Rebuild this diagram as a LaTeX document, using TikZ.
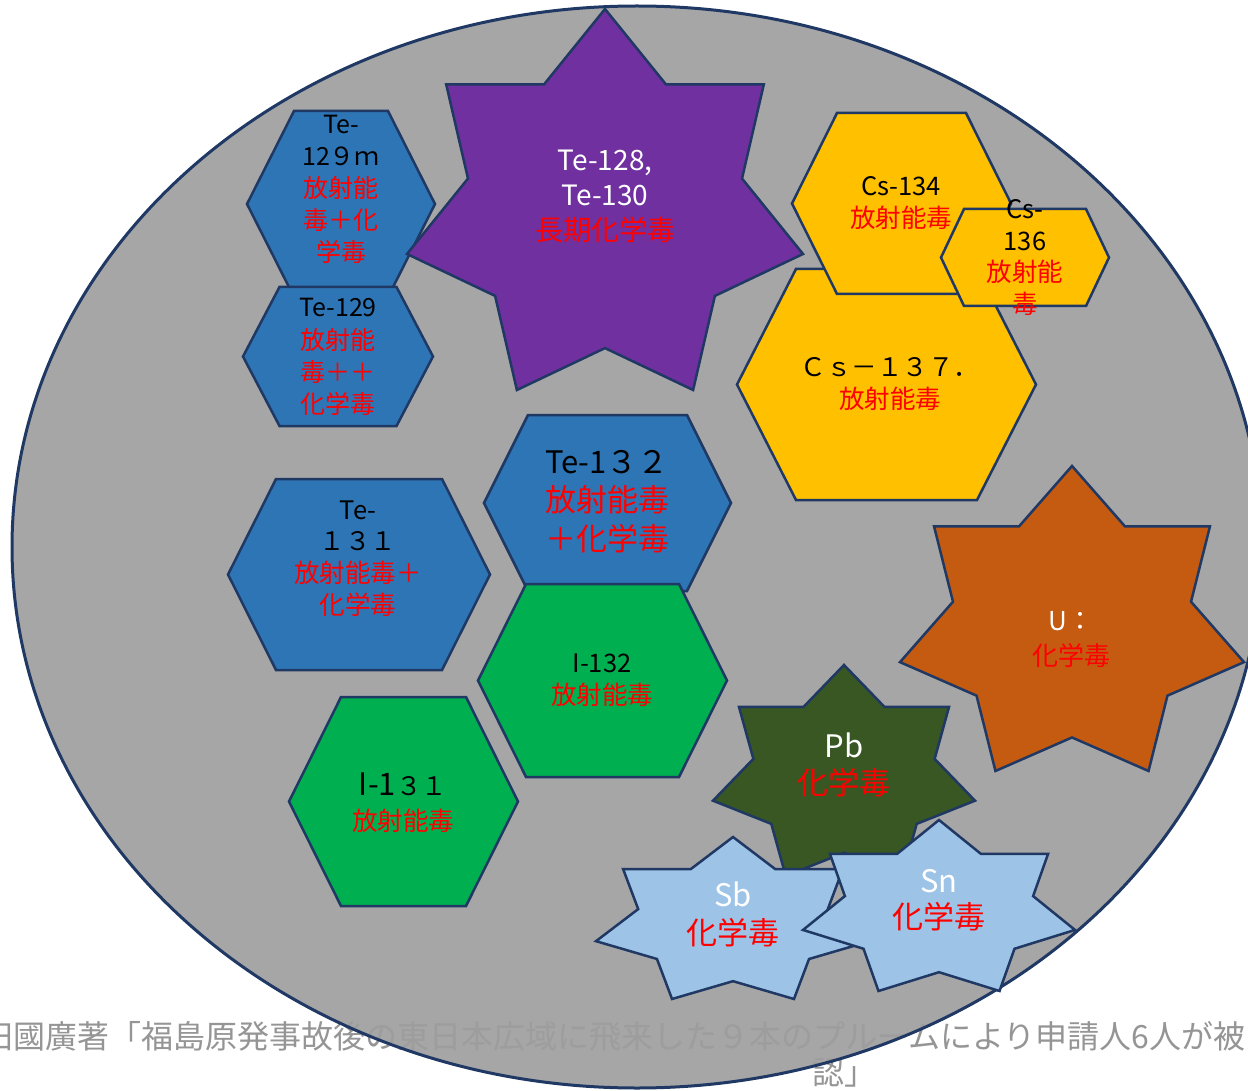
\documentclass[tikz,border=0pt]{standalone}
\usepackage{fontspec}
\setmainfont{Noto Sans CJK JP}
\definecolor{edge}{HTML}{1F3864}
\definecolor{ellgray}{HTML}{9E9E9E}
\definecolor{capgray}{HTML}{959595}
\definecolor{teblue}{HTML}{2E75B6}
\definecolor{igreen}{HTML}{00B050}
\definecolor{csyellow}{HTML}{FFC000}
\definecolor{tepurple}{HTML}{7030A0}
\definecolor{uorange}{HTML}{C55A11}
\definecolor{pbgreen}{HTML}{385723}
\definecolor{snblue}{HTML}{9DC3E6}
\newcommand{\fsz}[2]{\fontsize{#1}{#2}\selectfont}
\newcommand{\redtx}[1]{\textcolor{red}{#1}}
% hexagon: cx, cy, half width, half height, inset, fill
\newcommand{\hexa}[6]{%
  \draw[shp, fill=#6] ({#1-#3},{#2}) -- ({#1-#3+#5},{#2-#4}) -- ({#1+#3-#5},{#2-#4})
    -- ({#1+#3},{#2}) -- ({#1+#3-#5},{#2+#4}) -- ({#1-#3+#5},{#2+#4}) -- cycle;}
% seven-pointed star: x0, y0, w, h, fill
\newcommand{\starsev}[5]{%
  \draw[shp, fill=#5]
    ({#1+0.5*#3},{#2}) -- ({#1+0.654*#3},{#2+0.198*#4}) -- ({#1+0.901*#3},{#2+0.198*#4})
    -- ({#1+0.846*#3},{#2+0.445*#4}) -- ({#1+#3},{#2+0.643*#4}) -- ({#1+0.7775*#3},{#2+0.753*#4})
    -- ({#1+0.7225*#3},{#2+#4}) -- ({#1+0.5*#3},{#2+0.890*#4}) -- ({#1+0.2775*#3},{#2+#4})
    -- ({#1+0.2225*#3},{#2+0.753*#4}) -- ({#1},{#2+0.643*#4}) -- ({#1+0.154*#3},{#2+0.445*#4})
    -- ({#1+0.099*#3},{#2+0.198*#4}) -- ({#1+0.346*#3},{#2+0.198*#4}) -- cycle;}
\begin{document}
\begin{tikzpicture}[x=1pt,y=-1pt,
  shp/.style={draw=edge, line width=2.5pt, line join=miter},
  lbl/.style={align=center, inner sep=0pt, text=black},
  captxt/.style={inner sep=0pt, text=capgray, font=\fsz{32}{38}}]
\useasboundingbox (0,0) rectangle (1248,1091);
\clip (0,0) rectangle (1248,1091);
% caption (partly under the translucent ellipse)
\node[captxt, anchor=west] (cap1) at (-19,1036) {田國廣著「福島原発事故後の東日本広域に飛来した９本のプルームにより申請人6人が被};
\node[captxt] (cap2) at (844,1073) {認」};
% big ellipse
\draw[draw=edge, line width=3pt, fill=ellgray, fill opacity=0.92] (637,547) ellipse [x radius=625, y radius=541];
% Te-129m
\hexa{341}{204}{94}{93}{47}{teblue}
\node[lbl, font=\fsz{25}{32}] (te129m) at (341,189) {Te-\\12９ｍ\\\redtx{放射能}\\\redtx{毒＋化}\\\redtx{学毒}};
% Te-129
\hexa{338}{356.5}{95}{69.5}{36.5}{teblue}
\node[lbl, font=\fsz{25}{32.3}] (te129) at (338,357) {Te-129\\\redtx{放射能}\\\redtx{毒＋＋}\\\redtx{化学毒}};
% Te-128, Te-130
\starsev{407}{9}{396}{381}{tepurple}
\node[lbl, text=white, font=\fsz{28}{35}] (te128) at (605,196) {Te-128,\\Te-130\\\redtx{長期化学毒}};
% Cs-137
\hexa{886.5}{384.5}{149.5}{115.5}{59}{csyellow}
\node[lbl, font=\fsz{25.5}{32}] (cs137) at (890,384) {Ｃｓ－１３７．\\\redtx{放射能毒}};
% Cs-134
\hexa{901.5}{203.5}{109.5}{90.5}{45}{csyellow}
\node[lbl, font=\fsz{25.5}{32}] (cs134) at (901,203) {Cs-134\\\redtx{放射能毒}};
% Cs-136
\hexa{1025}{257.5}{84}{48.5}{23}{csyellow}
\node[lbl, font=\fsz{25.5}{31.7}] (cs136) at (1025,257.5) {Cs-\\136\\\redtx{放射能}\\\redtx{毒}};
% Te-131
\hexa{359}{574.5}{131}{95.5}{48}{teblue}
\node[lbl, font=\fsz{25.5}{31.7}] (te131) at (358,558.5) {Te-\\１３１\\\redtx{放射能毒＋}\\\redtx{化学毒}};
% Te-132
\hexa{607.5}{503}{123.5}{88}{44}{teblue}
\node[lbl, font=\fsz{31}{38.5}] (te132) at (607,501.5) {Te-1３２\\\redtx{放射能毒}\\\redtx{＋化学毒}};
% I-132
\hexa{602.5}{680.5}{124.5}{96.5}{48}{igreen}
\node[lbl, font=\fsz{25.5}{32}] (i132) at (602,680) {I-132\\\redtx{放射能毒}};
% I-131
\hexa{403.5}{801.5}{114.5}{104.5}{52}{igreen}
\node[lbl, font=\fsz{25.5}{35}] (i131) at (403,802.5) {{\fsz{31}{35}I-1}３１\\\redtx{放射能毒}};
% U
\starsev{900}{466}{344}{305}{uorange}
\node[lbl, text=white, font=\fsz{26}{35}] (u) at (1071,639.5) {U：\\\redtx{化学毒}};
% Pb
\starsev{713}{665}{262}{211}{pbgreen}
\node[lbl, text=white, font=\fsz{31}{37}] (pb) at (844,764.5) {Pb\\\redtx{化学毒}};
% Sb
\starsev{596}{837}{274}{162}{snblue}
\node[lbl, text=white, font=\fsz{31}{38}] (sb) at (733,914) {Sb\\\redtx{化学毒}};
% Sn
\starsev{803}{820}{272}{171}{snblue}
\node[lbl, text=white, font=\fsz{31}{36}] (sn) at (939,900) {Sn\\\redtx{化学毒}};
\end{tikzpicture}
\end{document}
